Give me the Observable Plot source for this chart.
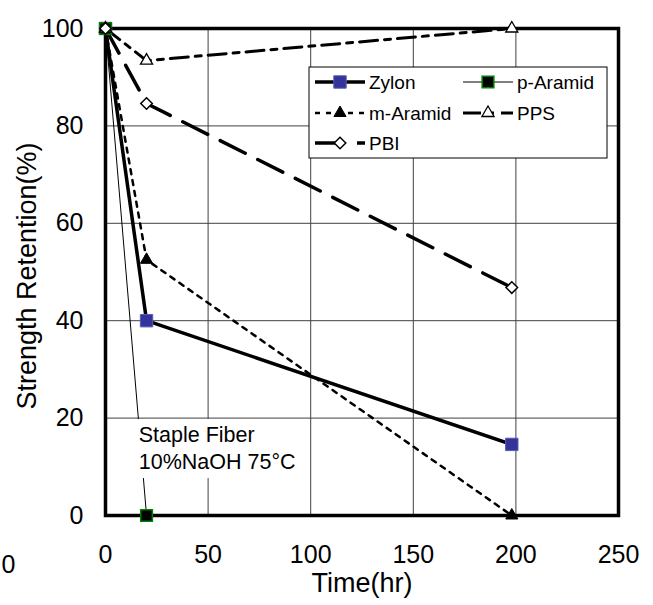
<!DOCTYPE html>
<html><head><meta charset="utf-8">
<script src="https://cdn.jsdelivr.net/npm/d3@7"></script>
<script src="https://cdn.jsdelivr.net/npm/@observablehq/plot@0.6"></script>
<style>
html,body{margin:0;padding:0;background:#fff;}
#chart{position:relative;width:653px;height:605px;overflow:hidden;}
</style></head><body><div id="chart"></div>
<script>
// ---- data ----
const xTicks = [0, 50, 100, 150, 200, 250];
const yTicks = [0, 20, 40, 60, 80, 100];
const zylonTime = [0, 20, 198];
const zylonValue = [100, 40, 14.6];
const pAramidTime = [0, 20];
const pAramidValue = [100, 0];
const mAramidTime = [0, 20, 198];
const mAramidValue = [100, 52.5, 0];
const ppsTime = [0, 20, 198];
const ppsValue = [100, 93.4, 100];
const pbiTime = [0, 20, 198];
const pbiValue = [100, 84.6, 46.8];
const xTitle = "Time(hr)";
const yTitle = "Strength Retention(%)";
const noteLines = ["Staple Fiber", "10%NaOH 75°C"];
const legendNames = ["Zylon", "p-Aramid", "m-Aramid", "PPS", "PBI"];

const rows = (ts, vs) => ts.map((t, i) => ({time: t, value: vs[i]}));
const zylon = rows(zylonTime, zylonValue);
const pAramid = rows(pAramidTime, pAramidValue);
const mAramid = rows(mAramidTime, mAramidValue);
const pps = rows(ppsTime, ppsValue);
const pbi = rows(pbiTime, pbiValue);

const FONT = "'Liberation Sans', Arial, Helvetica, sans-serif";
const st = {
  zylon: {stroke: "black", strokeWidth: 3.5},
  pAramid: {stroke: "black", strokeWidth: 1},
  mAramid: {stroke: "black", strokeWidth: 2.5, strokeDasharray: "5,6"},
  pps: {stroke: "black", strokeWidth: 3, strokeDasharray: "18,7,6,7"},
  pbi: {stroke: "black", strokeWidth: 3.5, strokeDasharray: "28,14"}
};
const mk = {
  zylon: {symbol: "square", r: 7, fill: "#333399", stroke: "#5b5bb8", strokeWidth: 1},
  pAramid: {symbol: "square", r: 6.6, fill: "black", stroke: "#008000", strokeWidth: 1.5},
  mAramid: {symbol: "triangle", r: 4.5, fill: "black", stroke: "black", strokeWidth: 1},
  pps: {symbol: "triangle", r: 4.5, fill: "white", stroke: "black", strokeWidth: 1.3},
  pbi: {symbol: "diamond2", r: 5.2, fill: "white", stroke: "black", strokeWidth: 1.5}
};

const plot = Plot.plot({
  width: 653, height: 605,
  marginLeft: 105, marginRight: 35, marginTop: 28, marginBottom: 90,
  style: {fontFamily: FONT, fontSize: "25px", background: "white", color: "black", overflow: "visible"},
  x: {domain: [0, 250]},
  y: {domain: [0, 100]},
  marks: [
    Plot.gridX(xTicks, {stroke: "#404040", strokeOpacity: 1, strokeWidth: 1}),
    Plot.gridY(yTicks, {stroke: "#404040", strokeOpacity: 1, strokeWidth: 1}),
    Plot.axisX(xTicks, {tickSize: 0, tickPadding: 30, label: null, fontSize: 25}),
    Plot.axisY(yTicks, {tickSize: 0, tickPadding: 22, label: null, fontSize: 25}),
    Plot.text([xTitle], {frameAnchor: "bottom", dy: 76, fontSize: 27, fill: "black"}),
    Plot.text([yTitle], {frameAnchor: "left", textAnchor: "middle", rotate: -90, dx: -78, dy: 4, fontSize: 27, fill: "black"}),
    Plot.text(["0"], {frameAnchor: "bottom-left", textAnchor: "middle", dx: -97, dy: 57, fontSize: 25, fill: "black"}),
    Plot.frame({stroke: "black", strokeWidth: 3.5}),
    Plot.line(zylon, {x: "time", y: "value", ...st.zylon}),
    Plot.line(pAramid, {x: "time", y: "value", ...st.pAramid}),
    Plot.line(mAramid, {x: "time", y: "value", ...st.mAramid}),
    Plot.line(pps, {x: "time", y: "value", ...st.pps}),
    Plot.line(pbi, {x: "time", y: "value", ...st.pbi}),
    Plot.dot(zylon, {x: "time", y: "value", ...mk.zylon}),
    Plot.dot(pAramid, {x: "time", y: "value", ...mk.pAramid}),
    Plot.dot(mAramid, {x: "time", y: "value", ...mk.mAramid}),
    Plot.dot(pps, {x: "time", y: "value", ...mk.pps}),
    Plot.dot(pbi, {x: "time", y: "value", ...mk.pbi})
  ]
});
document.getElementById("chart").appendChild(plot);

// ---- annotation and legend (overlay inside the plot's svg) ----
const svg = d3.select(plot);
const sx = plot.scale("x"), sy = plot.scale("y");
const symbolPath = (name, r) => {
  const map = {square: d3.symbolSquare, triangle: d3.symbolTriangle, diamond2: d3.symbolDiamond2};
  return d3.symbol(map[name], Math.PI * r * r)();
};

// annotation box
const ax = sx.apply(14.5), ay = sy.apply(19.7);
const note = svg.append("g").attr("text-anchor", "start");
note.append("rect").attr("x", ax).attr("y", ay).attr("width", 129).attr("height", 59).attr("fill", "white");
noteLines.forEach((t, i) => {
  note.append("text").attr("x", ax + 4).attr("y", ay + 23 + i * 27)
    .attr("text-anchor", "start")
    .attr("font-family", FONT).attr("font-size", 21.5).attr("fill", "black").text(t);
});

// legend
const lg = svg.append("g").attr("text-anchor", "start");
const LX = 309, LY = 67, LW = 298, LH = 91;
lg.append("rect").attr("x", LX).attr("y", LY).attr("width", LW).attr("height", LH)
  .attr("fill", "white").attr("stroke", "black").attr("stroke-width", 1);
const keys = ["zylon", "pAramid", "mAramid", "pps", "pbi"];
const pos = [[315, 82], [463, 82], [315, 113], [463, 113], [315, 143]];
keys.forEach((k, i) => {
  const [x0, y0] = pos[i];
  const s = st[k], m = mk[k];
  lg.append("line").attr("x1", x0).attr("x2", x0 + 50).attr("y1", y0).attr("y2", y0)
    .attr("stroke", s.stroke).attr("stroke-width", s.strokeWidth)
    .attr("stroke-dasharray", s.strokeDasharray || null);
  lg.append("path").attr("d", symbolPath(m.symbol, m.r))
    .attr("transform", `translate(${x0 + 25},${y0})`)
    .attr("fill", m.fill).attr("stroke", m.stroke).attr("stroke-width", m.strokeWidth);
  lg.append("text").attr("x", x0 + 54).attr("y", y0 + 7)
    .attr("text-anchor", "start")
    .attr("font-family", FONT).attr("font-size", 19).attr("fill", "black").text(legendNames[i]);
});
</script>
</body></html>
